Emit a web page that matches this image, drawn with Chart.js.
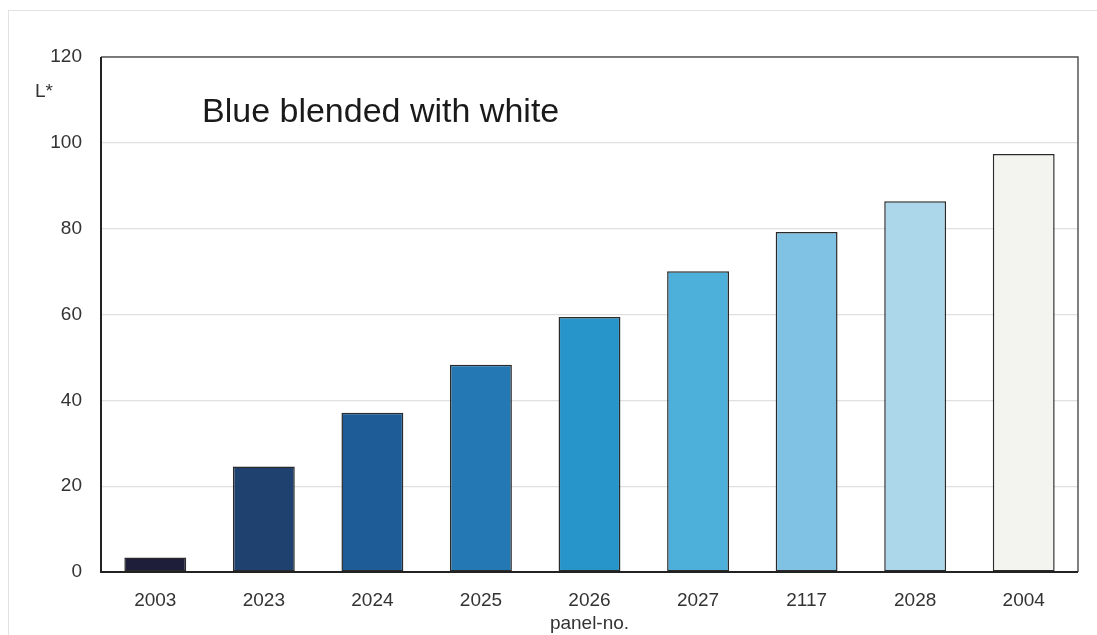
<!DOCTYPE html>
<html>
<head>
<meta charset="utf-8">
<script src="https://cdn.jsdelivr.net/npm/chart.js@4"></script>
<style>
  html, body { margin: 0; padding: 0; background: #fff; }
  #wrap { position: relative; width: 1097px; height: 635px; }
  #frame { position: absolute; left: 8px; top: 10px; right: 0; bottom: 0;
           border-top: 1px solid #e2e2e2; border-left: 1px solid #e2e2e2; pointer-events: none; }
  canvas { position: absolute; left: 0; top: 0; }
</style>
</head>
<body>
<div id="wrap">
  <canvas id="grafico" width="1097" height="635"></canvas>
  <div id="frame"></div>
</div>
<script>
const panelNo = ['2003', '2023', '2024', '2025', '2026', '2027', '2117', '2028', '2004'];
const lValores = [3.4, 24.6, 37.1, 48.3, 59.4, 70.1, 79.2, 86.4, 97.4];
const colores = ['#1e1e3a', '#1f4170', '#1d5c96', '#2479b4', '#2795c9', '#4cb0da', '#80c2e3', '#acd7ea', '#f3f4ef'];
const yTicks = [0, 20, 40, 60, 80, 100, 120];
const titulo = 'Blue blended with white';
const yLabel = 'L*';
const xLabel = 'panel-no.';

const fuente = '"Liberation Sans", Arial, sans-serif';

// marco del area de datos, titulo y etiqueta L*
const extras = {
  id: 'extras',
  afterDatasetsDraw(chart) {
    const { ctx, chartArea: a, scales } = chart;
    ctx.save();
    ctx.strokeStyle = '#555';
    ctx.lineWidth = 1.5;
    ctx.beginPath();
    ctx.moveTo(a.left, a.top);
    ctx.lineTo(a.right, a.top);
    ctx.lineTo(a.right, a.bottom);
    ctx.stroke();
    ctx.strokeStyle = '#222';
    ctx.lineWidth = 2;
    ctx.beginPath();
    ctx.moveTo(a.left, a.top);
    ctx.lineTo(a.left, a.bottom);
    ctx.lineTo(a.right, a.bottom);
    ctx.stroke();

    ctx.fillStyle = '#1a1a1a';
    ctx.font = '34px ' + fuente;
    ctx.textBaseline = 'middle';
    ctx.textAlign = 'left';
    ctx.fillText(titulo, a.left + 101, scales.y.getPixelForValue(107));

    ctx.fillStyle = '#333';
    ctx.font = '19px ' + fuente;
    ctx.fillText(yLabel, 35, scales.y.getPixelForValue(112));
    ctx.restore();
  }
};

new Chart(document.getElementById('grafico'), {
  type: 'bar',
  data: {
    labels: panelNo,
    datasets: [{
      data: lValores,
      backgroundColor: colores,
      borderColor: '#2a2a2a',
      borderWidth: 1.5,
      borderSkipped: false,
      barPercentage: 0.57,
      categoryPercentage: 1
    }]
  },
  options: {
    responsive: false,
    animation: false,
    layout: { padding: { top: 57, right: 19, left: 0, bottom: 0 } },
    plugins: { legend: { display: false }, tooltip: { enabled: false } },
    scales: {
      x: {
        grid: { display: false, drawTicks: false },
        border: { display: false },
        ticks: { color: '#333', font: { size: 19, family: fuente }, padding: 17 },
        title: { display: true, text: xLabel, color: '#333', font: { size: 19, family: fuente }, padding: { top: 0, bottom: 0 } },
        afterFit(scale) { scale.height = 63; }
      },
      y: {
        min: 0,
        max: 120,
        afterBuildTicks(scale) { scale.ticks = yTicks.map(v => ({ value: v })); },
        grid: { color: '#e0e0e0', lineWidth: 1.2, drawTicks: false },
        border: { display: false },
        ticks: { color: '#333', font: { size: 19, family: fuente }, padding: 19 },
        afterFit(scale) { scale.width = 101; }
      }
    }
  },
  plugins: [extras]
});
</script>
</body>
</html>
